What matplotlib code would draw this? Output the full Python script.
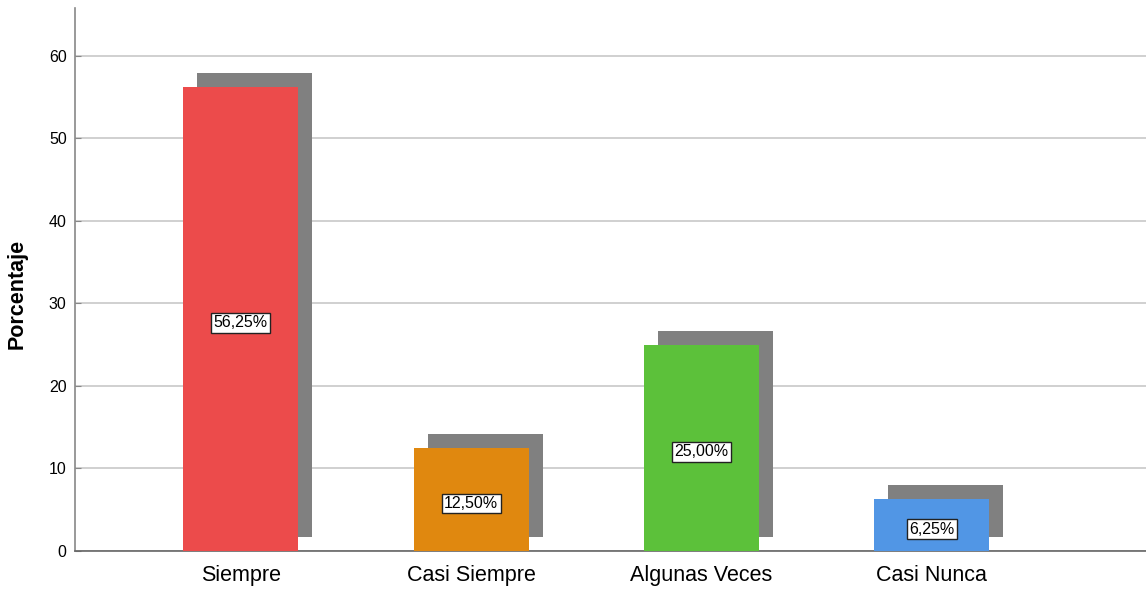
import matplotlib
matplotlib.use("Agg")
import matplotlib.pyplot as plt
import matplotlib.transforms as mtransforms

categories = ["Siempre", "Casi Siempre", "Algunas Veces", "Casi Nunca"]
values = [56.25, 12.50, 25.00, 6.25]
labels = ["56,25%", "12,50%", "25,00%", "6,25%"]
colors = ["#EC4B4B", "#E0880F", "#5CC13A", "#5196E5"]
yticks = [0, 10, 20, 30, 40, 50, 60]

plt.rcParams['font.family'] = ['Liberation Sans', 'DejaVu Sans']

fig = plt.figure(figsize=(11.46, 5.92), dpi=100)
ax = fig.add_axes([75 / 1146, 41 / 592, 1 - 75 / 1146, (551 - 8) / 592])

x = range(len(categories))
w = 0.5
dx, dy = 0.061, 1.7  # shadow offset

# shadows behind bars
ax.bar([i + dx for i in x], values, width=w, bottom=dy, color="#808080", zorder=2)
ax.bar(x, values, width=w, color=colors, zorder=3)

lbl_tr = ax.transData + mtransforms.ScaledTranslation(0, -4 / 100, fig.dpi_scale_trans)
for i, v in enumerate(values):
    ax.text(i, v / 2, labels[i], ha="center", va="center", fontsize=11.5, zorder=4,
            transform=lbl_tr,
            bbox=dict(boxstyle="square,pad=0.15", fc="white", ec="#222222", lw=1))

ax.set_xlim(-0.72, 3.93)
ax.set_ylim(0, 65.8)
ax.set_yticks(yticks)
ax.set_xticks(list(x))
ax.set_xticklabels(categories, fontsize=15.5)
ax.tick_params(axis="x", length=0, pad=10)
ax.tick_params(axis="y", labelsize=11.5, direction="in", length=4, color="#888888", pad=6)
ax.yaxis.grid(True, color="#c8c8c8", lw=1.2, zorder=0)
ax.set_axisbelow(True)

for s in ["top", "right"]:
    ax.spines[s].set_visible(False)
ax.spines["left"].set_color("#888888")
ax.spines["bottom"].set_color("#666666")
ax.spines["left"].set_linewidth(1.2)
ax.spines["bottom"].set_linewidth(1.2)

ax.set_ylabel("Porcentaje", fontsize=15.5, fontweight="bold")
ax.yaxis.set_label_coords(-0.044, 0.473)

fig.savefig("out.png", dpi=100)
